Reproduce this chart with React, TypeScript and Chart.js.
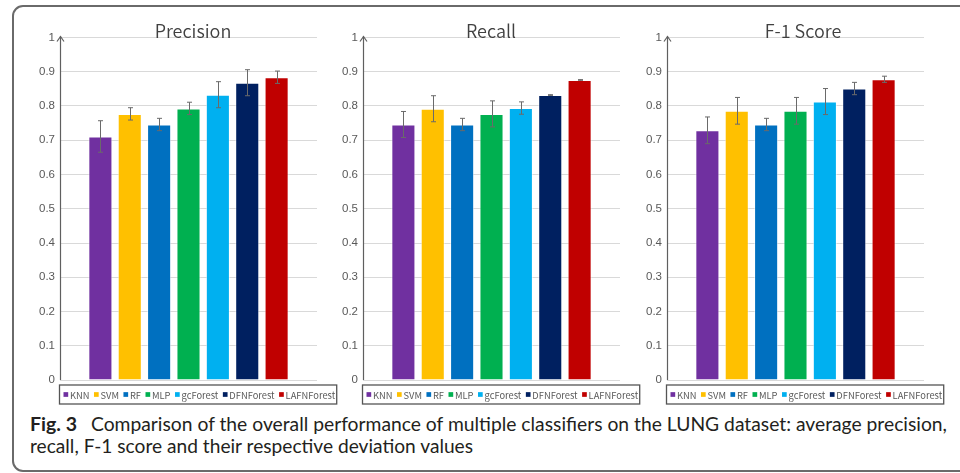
import React, { useEffect, useLayoutEffect, useRef } from "react";
import { Chart, registerables } from "chart.js";

Chart.register(...registerables);

// ---------------- data ----------------
const classifiers = ["KNN", "SVM", "RF", "MLP", "gcForest", "DFNForest", "LAFNForest"];
const seriesColors = ["#7030A0", "#FFC000", "#0070C0", "#00B050", "#00B0F0", "#002060", "#C00000"];

const precisionMeans = [0.711, 0.777, 0.746, 0.793, 0.833, 0.868, 0.884];
const precisionErrors = [0.046, 0.018, 0.018, 0.018, 0.038, 0.038, 0.018];

const recallMeans = [0.746, 0.792, 0.746, 0.777, 0.794, 0.832, 0.876];
const recallErrors = [0.038, 0.038, 0.018, 0.038, 0.018, 0.001, 0.001];

const f1Means = [0.729, 0.786, 0.746, 0.786, 0.813, 0.851, 0.878];
const f1Errors = [0.039, 0.039, 0.018, 0.039, 0.038, 0.018, 0.009];

const panelTitles = ["Precision", "Recall", "F-1 Score"];
const panelMeans = [precisionMeans, recallMeans, f1Means];
const panelErrors = [precisionErrors, recallErrors, f1Errors];

const yMin = 0;
const yMax = 1;
const yStep = 0.1;

const captionLabel = "Fig. 3";
const captionLine1 = "Comparison of the overall performance of multiple classifiers on the LUNG dataset: average precision,";
const captionLine2 = "recall, F-1 score and their respective deviation values";

// ---------------- layout ----------------
const PLOT_LEFTS = [60, 363, 667];
const TITLE_CENTERS = [193, 491, 803];
const CANVAS_W = 330;
const CANVAS_H = 400;
const CANVAS_TOP = 10;
const AXIS_W = 46;
const PLOT_W = 257;
const PLOT_TOP = 37.5;
const PLOT_BOTTOM = 380;

const TICK_FONT = '"Liberation Sans", Arial, sans-serif';
const CJK_FONT = '"Noto Sans CJK SC", "Noto Sans", sans-serif';
const CAPTION_FONT = 'Lato, "Open Sans", sans-serif';

function makeOverlay(title: string, titleX: number) {
  return {
    id: "overlay",
    afterDatasetsDraw(chart: any) {
      const ctx = chart.ctx;
      const yScale = chart.scales.y;
      ctx.save();
      ctx.strokeStyle = "#6a6a6a";
      ctx.lineWidth = 1;
      chart.data.datasets.forEach((ds: any, i: number) => {
        const meta = chart.getDatasetMeta(i);
        const bar = meta.data[0];
        if (!bar) return;
        const v = ds.data[0];
        const e = ds.errorBar || 0;
        const x = Math.round(bar.x) + 0.5;
        const yHi = yScale.getPixelForValue(v + e);
        const yLo = yScale.getPixelForValue(v - e);
        ctx.beginPath();
        ctx.moveTo(x, yHi);
        ctx.lineTo(x, yLo);
        ctx.moveTo(x - 2.5, yHi);
        ctx.lineTo(x + 2.5, yHi);
        ctx.moveTo(x - 2.5, yLo);
        ctx.lineTo(x + 2.5, yLo);
        ctx.stroke();
      });
      ctx.restore();
    },
    afterDraw(chart: any) {
      const ctx = chart.ctx;
      const area = chart.chartArea;
      ctx.save();
      // y axis with arrow
      const ax = Math.round(area.left) + 0.5;
      ctx.strokeStyle = "#5f5f5f";
      ctx.lineWidth = 1.2;
      ctx.beginPath();
      ctx.moveTo(ax, area.bottom);
      ctx.lineTo(ax, area.top - 1);
      ctx.stroke();
      ctx.beginPath();
      ctx.moveTo(ax - 3.5, area.top + 4);
      ctx.lineTo(ax, area.top - 1);
      ctx.lineTo(ax + 3.5, area.top + 4);
      ctx.stroke();

      // title
      ctx.fillStyle = "#404040";
      ctx.font = `350 18px ${CJK_FONT}`;
      ctx.textAlign = "center";
      ctx.textBaseline = "alphabetic";
      ctx.fillText(title, titleX, area.top + 0.5);

      // legend
      const sq = 4.7;
      const gapSq = 1.8;
      const gapItem = 4.5;
      const targetRun = 272;
      const n = chart.data.datasets.length;
      ctx.font = `10px ${CJK_FONT}`;
      let textSum = 0;
      chart.data.datasets.forEach((ds: any) => {
        textSum += ctx.measureText(ds.label).width;
      });
      const fixed = n * (sq + gapSq) + (n - 1) * gapItem;
      const fs = (10 * (targetRun - fixed)) / textSum;
      ctx.font = `${fs}px ${CJK_FONT}`;
      const boxLeft = area.left - 0.5;
      const boxTop = area.bottom + 5;
      const boxH = 19;
      const cy = boxTop + boxH / 2;
      let x = boxLeft + 4;
      ctx.textAlign = "left";
      ctx.textBaseline = "middle";
      chart.data.datasets.forEach((ds: any, i: number) => {
        ctx.fillStyle = ds.backgroundColor;
        ctx.fillRect(x, cy - sq / 2, sq, sq);
        x += sq + gapSq;
        ctx.fillStyle = "#595959";
        ctx.fillText(ds.label, x, cy + 0.5);
        x += ctx.measureText(ds.label).width;
        if (i < n - 1) x += gapItem;
      });
      const boxRight = x + 1.5;
      ctx.strokeStyle = "#555555";
      ctx.lineWidth = 1.3;
      ctx.strokeRect(boxLeft, boxTop, boxRight - boxLeft, boxH);
      ctx.restore();
    },
  };
}

function Panel({ index }: { index: number }) {
  const ref = useRef<HTMLCanvasElement>(null);
  const canvasLeft = PLOT_LEFTS[index] - AXIS_W;
  useEffect(() => {
    const means = panelMeans[index];
    const errs = panelErrors[index];
    const chart = new Chart(ref.current as HTMLCanvasElement, {
      type: "bar",
      data: {
        labels: [""],
        datasets: classifiers.map((name, i) => ({
          label: name,
          data: [means[i]],
          backgroundColor: seriesColors[i],
          borderColor: "rgba(255,255,255,0.55)",
          borderWidth: 1,
          errorBar: errs[i],
          categoryPercentage: 0.8,
          barPercentage: 0.82,
        })) as any,
      },
      options: {
        responsive: false,
        animation: false,
        devicePixelRatio: 1,
        layout: {
          padding: {
            left: 0,
            top: PLOT_TOP - CANVAS_TOP,
            right: CANVAS_W - AXIS_W - PLOT_W,
            bottom: CANVAS_H - (PLOT_BOTTOM - CANVAS_TOP),
          },
        },
        plugins: {
          legend: { display: false },
          title: { display: false },
          tooltip: { enabled: false },
        },
        scales: {
          x: { display: false },
          y: {
            min: yMin,
            max: yMax,
            afterFit: (s: any) => {
              s.width = AXIS_W;
            },
            ticks: {
              stepSize: yStep,
              padding: 5,
              color: "#595959",
              font: { family: TICK_FONT, size: 11.5 },
              callback: (v: any) => String(Math.round(Number(v) * 10) / 10),
            },
            grid: { color: "#d9d9d9", drawTicks: false, lineWidth: 1 },
            border: { display: false },
          },
        },
      } as any,
      plugins: [makeOverlay(panelTitles[index], TITLE_CENTERS[index] - canvasLeft)],
    });
    return () => chart.destroy();
  }, [index]);
  return (
    <canvas
      ref={ref}
      width={CANVAS_W}
      height={CANVAS_H}
      style={{ position: "absolute", left: canvasLeft, top: CANVAS_TOP, width: CANVAS_W, height: CANVAS_H }}
    />
  );
}

function FitText({ text, left, top, width, bold }: { text: string; left: number; top: number; width?: number; bold?: boolean }) {
  const ref = useRef<HTMLSpanElement>(null);
  useLayoutEffect(() => {
    const el = ref.current;
    if (!el || !width) return;
    el.style.transform = "none";
    const w = el.getBoundingClientRect().width;
    if (w > 0) el.style.transform = `scaleX(${width / w})`;
  }, [text, width]);
  return (
    <span
      ref={ref}
      style={{
        position: "absolute",
        left,
        top,
        whiteSpace: "nowrap",
        fontFamily: CAPTION_FONT,
        fontSize: 18.5,
        lineHeight: "18px",
        fontWeight: bold ? 700 : 400,
        color: "#231f20",
        transformOrigin: "0 0",
      }}
    >
      {text}
    </span>
  );
}

export default function App() {
  useLayoutEffect(() => {
    document.body.style.margin = "0";
  }, []);
  return (
    <div
      style={{
        position: "fixed",
        left: 0,
        top: 0,
        width: 960,
        height: 473,
        overflow: "hidden",
        background: "#ffffff",
      }}
    >
      <div
        style={{
          position: "absolute",
          left: 12,
          top: 5,
          width: 1000,
          height: 463,
          border: "2px solid #6a6a6a",
          borderRadius: 11,
        }}
      />
      {[0, 1, 2].map((i) => (
        <Panel key={i} index={i} />
      ))}
      <FitText text={captionLabel} left={30} top={415} width={47} bold />
      <FitText text={captionLine1} left={91} top={415} width={856} />
      <FitText text={captionLine2} left={30} top={436.5} width={443} />
    </div>
  );
}
